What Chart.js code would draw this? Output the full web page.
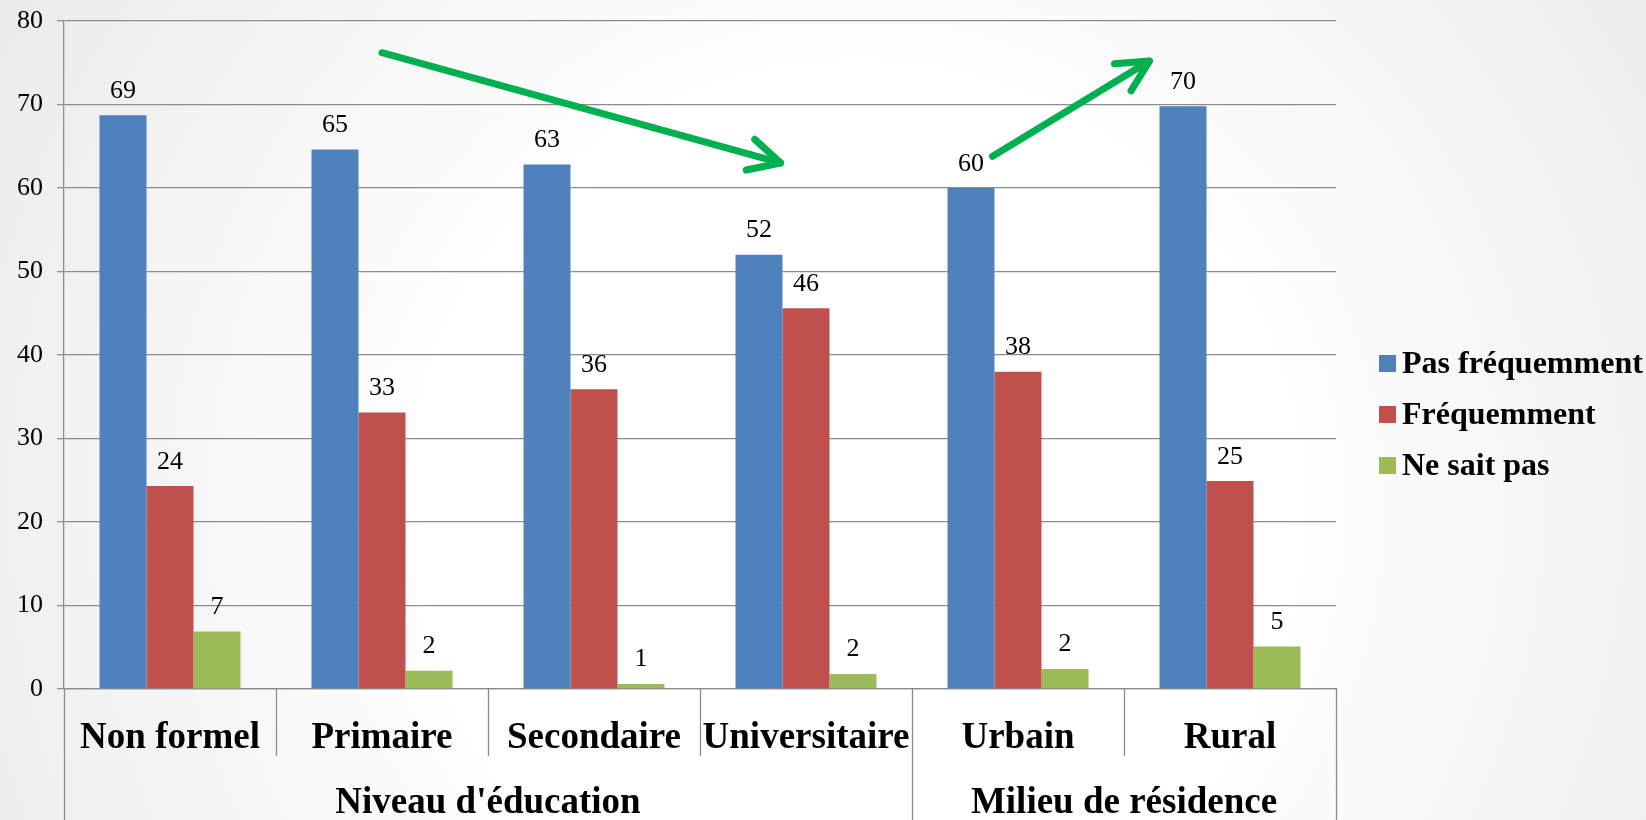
<!DOCTYPE html>
<html><head><meta charset="utf-8">
<script src="https://cdn.jsdelivr.net/npm/chart.js@4/dist/chart.umd.min.js"></script>
<style>
html,body{margin:0;padding:0;width:1646px;height:820px;overflow:hidden;
background: radial-gradient(circle farthest-corner at 52% 62%, #ffffff 0%, #ffffff 42%, #ebebeb 100%);}
canvas{display:block}
</style></head><body>
<canvas id="c" width="1646" height="820"></canvas>
<script>
// ---- data ----
const categories = ['Non formel', 'Primaire', 'Secondaire', 'Universitaire', 'Urbain', 'Rural'];
const groupNames = ["Niveau d'éducation", 'Milieu de résidence'];
const groupSizes = [4, 2];
const seriesNames = ['Pas fréquemment', 'Fréquemment', 'Ne sait pas'];
const pasFrequemment = [68.7, 64.6, 62.8, 52.0, 60.0, 69.8];
const frequemment    = [24.3, 33.1, 35.9, 45.6, 38.0, 24.9];
const neSaitPas      = [6.9, 2.2, 0.6, 1.8, 2.4, 5.1];
const yMin = 0, yMax = 80, yStep = 10;
// trend arrows, in data coordinates [category index, value]
const trendArrows = [
  { from: [1.0, 76.2], to: [2.88, 63.0] },
  { from: [3.88, 63.8], to: [4.62, 75.2] }
];

// ---- style ----
const colors = ['#4f81bd', '#c0504d', '#9bbb59'];
const gridColor = '#8c8c8c';
const serif = "'Liberation Serif', 'Times New Roman', serif";

const catSep = {
  id: 'catSep',
  afterDraw(chart) {
    const ctx = chart.ctx, area = chart.chartArea;
    const n = categories.length;
    const step = (area.right - area.left) / n;
    const bounds = [];
    for (let i = 0; i <= n; i++) bounds.push(area.left + i * step);
    const groupEdges = new Set([0]);
    let acc = 0;
    groupSizes.forEach(s => { acc += s; groupEdges.add(acc); });
    ctx.save();
    ctx.strokeStyle = gridColor;
    ctx.lineWidth = 1.3;
    bounds.forEach((bx, i) => {
      const x = Math.round(bx) + 0.5;
      ctx.beginPath();
      ctx.moveTo(x, area.bottom);
      ctx.lineTo(x, groupEdges.has(i) ? chart.height : area.bottom + 67);
      ctx.stroke();
    });
    ctx.fillStyle = '#000';
    ctx.font = "bold 37px " + serif;
    ctx.textAlign = 'center';
    ctx.textBaseline = 'alphabetic';
    let start = 0;
    groupSizes.forEach((s, gi) => {
      const cx = (bounds[start] + bounds[start + s]) / 2;
      ctx.fillText(groupNames[gi], cx, area.bottom + 124);
      start += s;
    });
    ctx.restore();
  }
};

const valueLabels = {
  id: 'valueLabels',
  afterDatasetsDraw(chart) {
    const ctx = chart.ctx;
    ctx.save();
    ctx.fillStyle = '#000';
    ctx.font = "26px " + serif;
    ctx.textAlign = 'center';
    ctx.textBaseline = 'alphabetic';
    chart.data.datasets.forEach((ds, di) => {
      chart.getDatasetMeta(di).data.forEach((el, i) => {
        ctx.fillText(String(Math.round(ds.data[i])), el.x, el.y - 17.5);
      });
    });
    ctx.restore();
  }
};

const arrows = {
  id: 'arrows',
  afterDraw(chart) {
    const ctx = chart.ctx, xs = chart.scales.x, ys = chart.scales.y;
    ctx.save();
    ctx.strokeStyle = '#00b050';
    ctx.lineWidth = 7;
    ctx.lineCap = 'round';
    ctx.lineJoin = 'round';
    trendArrows.forEach(a => {
      const x1 = xs.getPixelForValue(a.from[0]), y1 = ys.getPixelForValue(a.from[1]);
      const x2 = xs.getPixelForValue(a.to[0]), y2 = ys.getPixelForValue(a.to[1]);
      const ang = Math.atan2(y2 - y1, x2 - x1);
      ctx.beginPath();
      ctx.moveTo(x1, y1); ctx.lineTo(x2, y2); ctx.stroke();
      const L = 35, sp = 27 * Math.PI / 180;
      ctx.beginPath();
      ctx.moveTo(x2 - L * Math.cos(ang - sp), y2 - L * Math.sin(ang - sp));
      ctx.lineTo(x2, y2);
      ctx.lineTo(x2 - L * Math.cos(ang + sp), y2 - L * Math.sin(ang + sp));
      ctx.stroke();
    });
    ctx.restore();
  }
};

const customLegend = {
  id: 'customLegend',
  afterDraw(chart) {
    const ctx = chart.ctx;
    ctx.save();
    ctx.font = "bold 32px " + serif;
    ctx.textAlign = 'left';
    ctx.textBaseline = 'middle';
    chart.data.datasets.forEach((ds, i) => {
      const cy = 363.5 + i * 51;
      ctx.fillStyle = ds.backgroundColor;
      ctx.fillRect(1379, cy - 8.5, 17, 17);
      ctx.fillStyle = '#000';
      ctx.fillText(ds.label, 1402, cy + 1);
    });
    ctx.restore();
  }
};

new Chart(document.getElementById('c'), {
  type: 'bar',
  data: {
    labels: categories,
    datasets: [
      { label: seriesNames[0], data: pasFrequemment, backgroundColor: colors[0] },
      { label: seriesNames[1], data: frequemment, backgroundColor: colors[1] },
      { label: seriesNames[2], data: neSaitPas, backgroundColor: colors[2] }
    ]
  },
  options: {
    responsive: false,
    devicePixelRatio: 1,
    animation: false,
    layout: { padding: { top: 21, right: 310, left: 0, bottom: 0 } },
    datasets: { bar: { categoryPercentage: 0.665, barPercentage: 1 } },
    plugins: { legend: { display: false }, tooltip: { enabled: false } },
    scales: {
      x: {
        grid: { display: false },
        border: { display: true, color: gridColor, width: 1.3 },
        ticks: {
          color: '#000', font: { family: serif, size: 37, weight: 'bold' },
          autoSkip: false, maxRotation: 0, minRotation: 0, padding: 19
        },
        afterFit(scale) { scale.height = 131; }
      },
      y: {
        min: yMin, max: yMax,
        grid: { color: gridColor, lineWidth: 1.3, tickLength: 7 },
        border: { display: true, color: gridColor, width: 1.3 },
        ticks: { stepSize: yStep, color: '#000', font: { family: serif, size: 26 }, padding: 14 },
        afterFit(scale) { scale.width = 64; scale.paddingTop = 0; scale.paddingBottom = 0; }
      }
    }
  },
  plugins: [catSep, valueLabels, arrows, customLegend]
});
</script>
</body></html>
